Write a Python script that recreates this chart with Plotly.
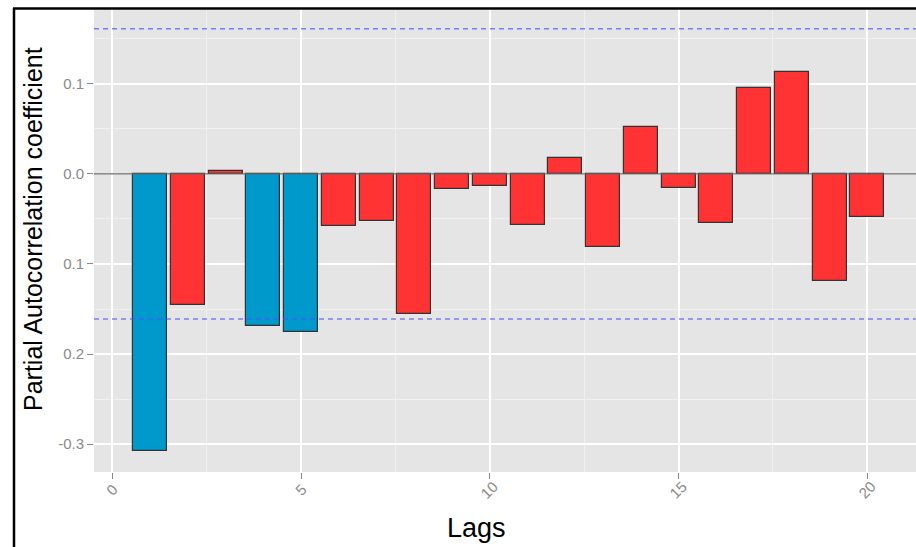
import plotly.graph_objects as go

lags = list(range(1, 21))
pacf = [-0.308, -0.145, 0.003, -0.169, -0.176, -0.058, -0.052, -0.155, -0.017, -0.013,
        -0.057, 0.018, -0.081, 0.052, -0.016, -0.055, 0.095, 0.113, -0.119, -0.048]
conf_limit = 0.161
y_tick_vals = [0.1, 0.0, -0.1, -0.2, -0.3]
y_tick_text = ["0.1", "0.0", "0.1", "0.2", "-0.3"]
x_tick_vals = [0, 5, 10, 15, 20]
x_tick_text = ["0", "5", "10", "15", "20"]

BLUE = "#0099CC"
RED = "#FF3333"
colors = [BLUE if abs(v) > conf_limit else RED for v in pacf]

W, H = 916, 547
ml, mr, mt, mb = 94, 0, 10, 75
pw = W - ml - mr
ph = H - mt - mb

def px_x(px):
    return (px - ml) / pw

def px_y(py):
    return (H - mb - py) / ph

FONT = "Liberation Sans, Arial, sans-serif"
TICK_GREY = "#8A8A8A"

fig = go.Figure()
fig.add_trace(go.Bar(
    x=lags, y=pacf, width=0.9,
    marker=dict(color=colors, line=dict(color="#333333", width=1.2)),
    showlegend=False,
))

annotations = [
    dict(text="Partial Autocorrelation coefficient", xref="paper", yref="paper",
         x=px_x(33), y=px_y(229), textangle=-90, showarrow=False,
         xanchor="center", yanchor="middle",
         font=dict(size=25, color="black", family=FONT)),
    dict(text="Lags", xref="paper", yref="paper",
         x=px_x(476), y=px_y(528), showarrow=False,
         xanchor="center", yanchor="middle",
         font=dict(size=27, color="black", family=FONT)),
]
for v, t in zip(x_tick_vals, x_tick_text):
    annotations.append(dict(
        text=t, xref="x", yref="paper", x=v, y=px_y(490), showarrow=False,
        xanchor="center", yanchor="middle", textangle=-45,
        font=dict(size=15, color=TICK_GREY, family=FONT)))

fig.update_layout(
    width=W, height=H,
    margin=dict(l=ml, r=mr, t=mt, b=mb, pad=0),
    paper_bgcolor="white",
    plot_bgcolor="#E5E5E5",
    font=dict(family=FONT),
    bargap=0,
    xaxis=dict(
        range=[-0.485, 21.29],
        tickmode="array", tickvals=x_tick_vals, ticktext=x_tick_text,
        showticklabels=False,
        ticks="outside", ticklen=6, tickcolor=TICK_GREY, tickwidth=1,
        showgrid=True, gridcolor="white", gridwidth=1.5,
        minor=dict(tick0=0, dtick=2.5, showgrid=True, gridcolor="#F0F0F0", gridwidth=0.8),
        zeroline=False, showline=False,
    ),
    yaxis=dict(
        range=[-0.3308, 0.1817],
        tickmode="array", tickvals=y_tick_vals, ticktext=y_tick_text,
        tickfont=dict(size=15, color=TICK_GREY, family=FONT),
        ticks="outside", ticklen=6, tickcolor=TICK_GREY, tickwidth=1,
        showgrid=True, gridcolor="white", gridwidth=1.5,
        minor=dict(tick0=0, dtick=0.05, showgrid=True, gridcolor="#F0F0F0", gridwidth=0.8),
        zeroline=False, showline=False,
    ),
    shapes=[
        dict(type="line", xref="paper", yref="y", x0=0, x1=1, y0=0, y1=0,
             line=dict(color="#666666", width=1.2), layer="above"),
        dict(type="line", xref="paper", yref="y", x0=0, x1=1, y0=conf_limit, y1=conf_limit,
             line=dict(color="rgba(80,80,255,0.7)", width=1.5, dash="5px,4px"), layer="above"),
        dict(type="line", xref="paper", yref="y", x0=0, x1=1, y0=-conf_limit, y1=-conf_limit,
             line=dict(color="rgba(80,80,255,0.7)", width=1.5, dash="5px,4px"), layer="above"),
        # outer frame
        dict(type="line", xref="paper", yref="paper", x0=px_x(14), x1=px_x(14),
             y0=px_y(8), y1=px_y(560), line=dict(color="black", width=2.5)),
        dict(type="line", xref="paper", yref="paper", x0=px_x(13), x1=px_x(930),
             y0=px_y(8.5), y1=px_y(8.5), line=dict(color="black", width=2.5)),
    ],
    annotations=annotations,
)

fig.write_html("out.html", config={"displayModeBar": False},
               post_script="document.body.style.margin='0px';")
